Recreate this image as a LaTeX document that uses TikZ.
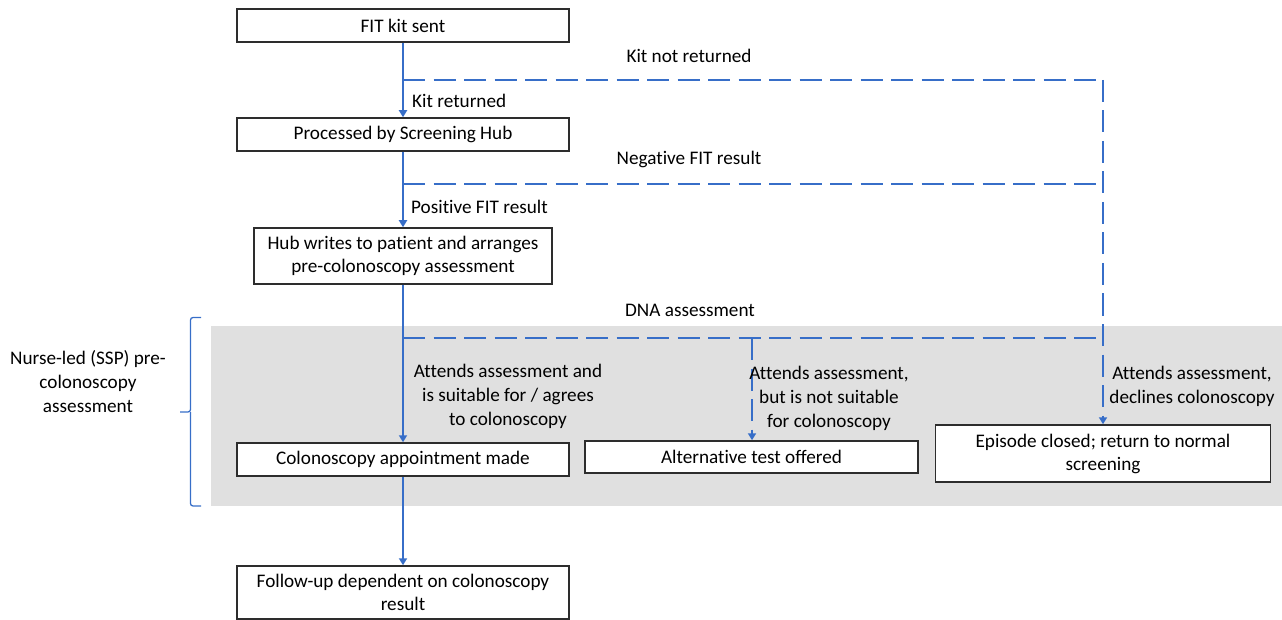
\documentclass[tikz,border=0pt]{standalone}
\usepackage{fontspec}
\setmainfont{Carlito}[Ligatures={NoCommon}]
\usetikzlibrary{arrows.meta}
\definecolor{fblue}{RGB}{55,110,200}
\definecolor{fgrey}{RGB}{224,224,224}
\definecolor{fbord}{RGB}{45,45,45}
\tikzset{
  box/.style={draw=fbord, line width=1.5pt, fill=white, inner sep=0pt, align=center, font=\fontsize{19.2}{23}\selectfont},
  lbl/.style={inner sep=0pt, align=center, font=\fontsize{19.2}{24}\selectfont},
  flow/.style={draw=fblue, line width=2.4pt, -{Triangle[width=8pt,length=7pt]}},
  dline/.style={draw=fblue, line width=2.4pt, dash pattern=on 22pt off 8.5pt},
  dflow/.style={dline, -{Triangle[width=8pt,length=7pt]}},
}
\begin{document}
\begin{tikzpicture}[x=1pt,y=-1pt]
\useasboundingbox (0,0) rectangle (1282,620);
% grey band
\fill[fgrey] (211,326) rectangle (1282,506);
% boxes
\node[box, minimum width=332pt, minimum height=33pt] (fit) at (403,25.5) {FIT kit sent};
\node[box, minimum width=332pt, minimum height=33pt] (proc) at (403,134.5) {Processed by Screening Hub};
\node[box, minimum width=298pt, minimum height=56pt] (hub) at (403,256) {Hub writes to patient and arranges\\pre-colonoscopy assessment};
\node[box, minimum width=332pt, minimum height=33pt] (appt) at (403,459.5) {Colonoscopy appointment made};
\node[box, minimum width=332pt, minimum height=53pt] (follow) at (403,592.5) {Follow-up dependent on colonoscopy\\result};
\node[box, minimum width=333pt, minimum height=32pt] (alt) at (751.5,457) {Alternative test offered};
\node[box, minimum width=335pt, minimum height=57pt] (epi) at (1103,453.5) {Episode closed; return to normal\\screening};
% junctions
\coordinate (j1) at (403,80);
\coordinate (j1r) at (1103,80);
\coordinate (j2) at (403,184);
\coordinate (j2r) at (1103,184);
\coordinate (j3) at (403,338);
\coordinate (j3m) at (752,338);
\coordinate (j3r) at (1103,338);
% solid flow
\draw[flow] (fit) -- (proc);
\draw[flow] (proc) -- (hub);
\draw[flow] (hub) -- (appt);
\draw[flow] (appt) -- (follow);
% dashed flows
\draw[dline] (j1) -- (j1r);
\draw[dline] (j2) -- (j2r);
\draw[dline] (j3) -- (j3r);
\draw[dflow] (j1r) -- (epi.north);
\draw[dflow] (j3m) -- (j3m |- alt.north);
% labels
\node[lbl] (l1) at (689,56) {Kit not returned};
\node[lbl, anchor=west] (l2) at (412,101) {Kit returned};
\node[lbl] (l3) at (689,159) {Negative FIT result};
\node[lbl, anchor=west] (l4) at (411,207) {Positive FIT result};
\node[lbl] (l5) at (690,310) {DNA assessment};
\node[lbl] (l6) at (508,396) {Attends assessment and\\is suitable for / agrees\\to colonoscopy};
\node[lbl] (l7) at (829,398) {Attends assessment,\\but is not suitable\\for colonoscopy};
\node[lbl] (l8) at (1192,386) {Attends assessment,\\declines colonoscopy};
\node[lbl] (l9) at (88,382) {Nurse-led (SSP) pre-\\colonoscopy\\assessment};
% brace
\draw[fblue, line width=1.3pt, rounded corners=2.5pt] (201,317.5) -- (190.5,317.5) -- (190.5,412) -- (180,412);
\draw[fblue, line width=1.3pt, rounded corners=2.5pt] (201,506) -- (190.5,506) -- (190.5,412);
\end{tikzpicture}
\end{document}
